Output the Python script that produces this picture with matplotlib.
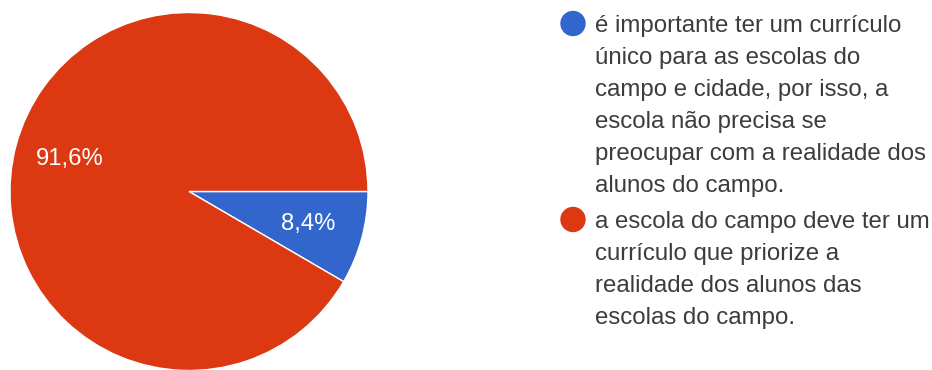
import matplotlib.pyplot as plt
from matplotlib.patches import Circle

plt.rcParams['font.family'] = ['Liberation Sans', 'DejaVu Sans']

# data
labels = [
    "é importante ter um currículo\núnico para as escolas do\ncampo e cidade, por isso, a\n"
    "escola não precisa se\npreocupar com a realidade dos\nalunos do campo.",
    "a escola do campo deve ter um\ncurrículo que priorize a\nrealidade dos alunos das\nescolas do campo.",
]
shares = [8.4, 91.6]
colors = ["#3366CC", "#DC3912"]
text_color = "#3c3c3c"

W, H = 932, 370
fig = plt.figure(figsize=(W / 100, H / 100), dpi=100)

# pie: centre ~(189, 191.5) px, radius ~179 px
cx, cy, r = 189, 191.5, 179
ax = fig.add_axes([(cx - r) / W, (H - cy - r) / H, 2 * r / W, 2 * r / H])
ax.pie(shares, colors=colors, startangle=0, counterclock=False,
       autopct=lambda p: f"{p:.1f}%".replace(".", ","), pctdistance=0.69,
       wedgeprops=dict(edgecolor="white", linewidth=1),
       textprops=dict(color="white", fontsize=17.2))
ax.set_xlim(-1, 1)
ax.set_ylim(-1, 1)

# legend drawn in pixel coordinates
lg = fig.add_axes([0, 0, 1, 1])
lg.set_xlim(0, W)
lg.set_ylim(H, 0)
lg.axis("off")

first_baselines = [32, 228]
line_step = 32
for lab, col, y0 in zip(labels, colors, first_baselines):
    lg.add_patch(Circle((573, y0 - 8.5), 12, color=col))
    for i, line in enumerate(lab.split("\n")):
        lg.text(595, y0 + i * line_step, line, fontsize=17.3, color=text_color,
                va="baseline", ha="left")

fig.savefig("out.png", dpi=100, facecolor="white")
